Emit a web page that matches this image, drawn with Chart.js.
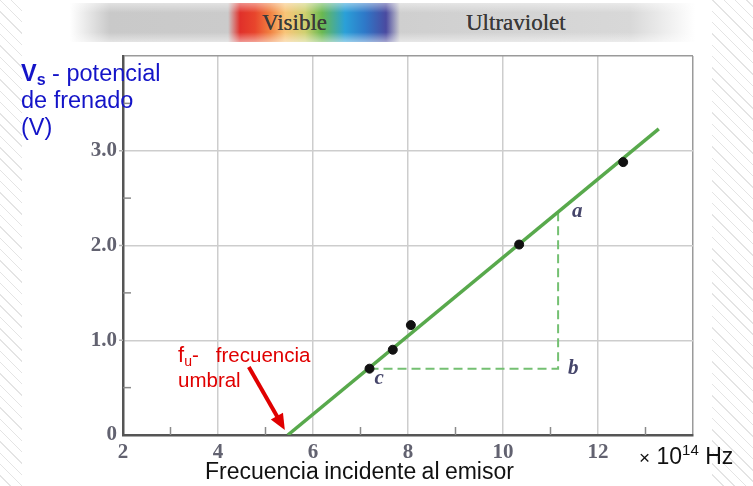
<!DOCTYPE html>
<html>
<head>
<meta charset="utf-8">
<script src="https://cdn.jsdelivr.net/npm/chart.js@4.4.1/dist/chart.umd.min.js"></script>
<style>
  html, body { margin: 0; padding: 0; }
  body {
    width: 753px; height: 486px; position: relative; overflow: hidden;
    background: #fff repeating-linear-gradient(45deg, #fff 0 7px, #e4e4e4 7px 8px);
    font-family: "Liberation Sans", Arial, sans-serif;
  }
  .panel { position: absolute; left: 22px; top: 0; width: 690px; height: 486px; background: #fff; }
  #wrap { position: absolute; left: 0; top: 0; width: 753px; height: 486px; }
  .spectrum {
    position: absolute; left: 70px; top: 3px; width: 625px; height: 39px;
    background:
      linear-gradient(to bottom, rgba(255,255,255,0.45), rgba(255,255,255,0) 25%, rgba(255,255,255,0) 75%, rgba(255,255,255,0.5)),
      linear-gradient(to right, rgba(200,200,200,0) 0px, #c9c9c9 40px, #cbcbcb 158px, #e0302a 170px,
        #e8452c 185px, #f08040 200px, #f8c478 215px, #cfd070 235px, #6ab850 252px, #2aa0d8 275px,
        #2e78c8 295px, #4a4aa0 316px, #cfcfcf 330px, #d8d8d8 560px, rgba(235,235,235,0) 625px);
  }
  .spectrum span {
    position: absolute; top: 7px; font-family: "Liberation Serif", "Times New Roman", serif;
    font-size: 23px; color: #3a3a3a; text-shadow: 0 0 0.6px #3a3a3a;
  }
  .ytitle { position: absolute; left: 21px; top: 60px; color: #1414c8; font-size: 23.5px; line-height: 27px; }
  .ytitle b sub { font-size: 16px; vertical-align: -4px; line-height: 0; }
  .xtitle { position: absolute; left: 205px; top: 458px; color: #111; font-size: 23px; word-spacing: -1px; }
  .units { position: absolute; left: 639px; top: 443px; color: #111; font-size: 23px; }
  .units .x { font-size: 19px; }
  .units sup { font-size: 15px; vertical-align: 9px; line-height: 0; }
  .umbral { position: absolute; left: 178px; top: 342px; color: #e00000; font-size: 20.5px; line-height: 25px; }
  .umbral .f { font-size: 22px; }
  .umbral sub { font-size: 14px; vertical-align: -4px; line-height: 0; }
</style>
</head>
<body>
<div class="panel"></div>
<div class="spectrum"><span style="left:192px">Visible</span><span style="left:396px">Ultraviolet</span></div>
<div id="wrap"><canvas id="chart" width="753" height="486"></canvas></div>
<div class="ytitle"><b>V<sub>s</sub></b> - potencial<br>de frenado<br>(V)</div>
<div class="umbral"><span class="f">f</span><sub>u</sub>-&nbsp;&nbsp; frecuencia<br>umbral</div>
<div class="xtitle">Frecuencia incidente al emisor</div>
<div class="units"><span class="x">×</span> 10<sup>14</sup> Hz</div>

<script>
// measured points (frequency in 10^14 Hz, stopping potential in V)
const freqPts = [7.19, 7.68, 8.06, 10.34, 12.53];
const vsPts = [0.70, 0.90, 1.16, 2.01, 2.88];

// fitted straight line, from threshold frequency upwards
const fitFreq = [5.47, 13.28];
const fitVs = [0, 3.23];

// dashed slope triangle c -> b -> a
const triFreq = [7.19, 11.16, 11.16];
const triVs = [0.70, 0.70, 2.36];
const triNames = ["c", "b", "a"];

const xTicks = [2, 4, 6, 8, 10, 12];
const yTicks = [0, 1, 2, 3];
const xMin = 2, xMax = 14, yMin = 0, yMax = 4;

const toXY = (xs, ys) => xs.map((x, i) => ({ x: x, y: ys[i] }));

// small inward ticks at the odd / half values + labels a, b, c + red arrow
const extras = {
  id: "extras",
  afterDatasetsDraw(chart) {
    const { ctx, scales: { x, y } } = chart;
    ctx.save();
    ctx.strokeStyle = "#8a8a8a";
    ctx.lineWidth = 1.5;
    for (let v = xMin + 1; v < xMax; v += 2) {
      const px = x.getPixelForValue(v);
      ctx.beginPath();
      ctx.moveTo(px, y.bottom);
      ctx.lineTo(px, y.bottom - 8);
      ctx.stroke();
    }
    for (let v = yMin + 0.5; v < yMax; v += 1) {
      const py = y.getPixelForValue(v);
      ctx.beginPath();
      ctx.moveTo(x.left, py);
      ctx.lineTo(x.left + 8, py);
      ctx.stroke();
    }
    // main y gridlines poke out a little left of the axis
    ctx.strokeStyle = "#b0b0b0";
    yTicks.forEach((v) => {
      if (v === yMin) return;
      const py = y.getPixelForValue(v);
      ctx.beginPath();
      ctx.moveTo(x.left - 4, py);
      ctx.lineTo(x.left, py);
      ctx.stroke();
    });

    // corner letters of the triangle
    ctx.fillStyle = "#45456a";
    ctx.font = "italic bold 21px 'Liberation Serif', serif";
    ctx.textBaseline = "middle";
    const offs = { a: [14, 0], b: [10, 0], c: [5, 10] };
    triNames.forEach((n, i) => {
      const px = x.getPixelForValue(triFreq[i]);
      const py = y.getPixelForValue(triVs[i]);
      ctx.fillText(n, px + offs[n][0], py + offs[n][1]);
    });

    // arrow pointing at the threshold frequency
    const tx = x.getPixelForValue(fitFreq[0]) - 3;
    const ty = y.getPixelForValue(0) - 5;
    const sx = tx - 36, sy = ty - 63;
    const ang = Math.atan2(ty - sy, tx - sx);
    ctx.strokeStyle = "#e00000";
    ctx.fillStyle = "#e00000";
    ctx.lineWidth = 4;
    ctx.beginPath();
    ctx.moveTo(sx, sy);
    ctx.lineTo(tx - 12 * Math.cos(ang), ty - 12 * Math.sin(ang));
    ctx.stroke();
    ctx.beginPath();
    ctx.moveTo(tx, ty);
    ctx.lineTo(tx - 16 * Math.cos(ang) + 7 * Math.sin(ang), ty - 16 * Math.sin(ang) - 7 * Math.cos(ang));
    ctx.lineTo(tx - 16 * Math.cos(ang) - 7 * Math.sin(ang), ty - 16 * Math.sin(ang) + 7 * Math.cos(ang));
    ctx.closePath();
    ctx.fill();
    ctx.restore();
  }
};

const tickFont = { family: "'Liberation Serif', 'Times New Roman', serif", size: 21, weight: "bold" };

new Chart(document.getElementById("chart"), {
  type: "scatter",
  data: {
    datasets: [
      {
        data: toXY(freqPts, vsPts),
        backgroundColor: "#111",
        borderColor: "#111",
        pointRadius: 4.5,
        order: 0
      },
      {
        data: toXY(fitFreq, fitVs),
        showLine: true,
        borderColor: "#58a94c",
        borderWidth: 3.5,
        pointRadius: 0,
        order: 1
      },
      {
        data: toXY(triFreq, triVs),
        showLine: true,
        borderColor: "#74c072",
        borderWidth: 2,
        borderDash: [9, 5],
        pointRadius: 0,
        order: 2
      }
    ]
  },
  options: {
    responsive: false,
    animation: false,
    layout: { padding: { left: 0, right: 60, top: 56, bottom: 0 } },
    plugins: { legend: { display: false }, tooltip: { enabled: false } },
    scales: {
      x: {
        type: "linear",
        min: xMin,
        max: xMax,
        afterFit: (s) => { s.height = 51; },
        ticks: {
          stepSize: 1,
          autoSkip: false,
          maxRotation: 0,
          padding: 5,
          color: "#626270",
          font: tickFont,
          callback: (v) => xTicks.includes(v) ? String(v) : ""
        },
        grid: {
          drawTicks: false,
          lineWidth: 1.5,
          color: (c) => {
            const v = c.tick ? c.tick.value : null;
            if (v === xMax) return "#9a9a9a";
            if (v !== null && v > xMin && v % 2 === 0) return "#cdcdcd";
            return "rgba(0,0,0,0)";
          }
        },
        border: { color: "#555", width: 2.5 }
      },
      y: {
        min: yMin,
        max: yMax,
        afterFit: (s) => { s.width = 123; },
        ticks: {
          stepSize: 0.5,
          autoSkip: false,
          padding: 6,
          color: "#626270",
          font: tickFont,
          callback: (v) => yTicks.includes(v) ? (v === 0 ? "0" : v.toFixed(1)) : ""
        },
        grid: {
          drawTicks: false,
          lineWidth: 1.5,
          color: (c) => {
            const v = c.tick ? c.tick.value : null;
            if (v === yMax) return "#9a9a9a";
            if (v !== null && v > yMin && Number.isInteger(v)) return "#cdcdcd";
            return "rgba(0,0,0,0)";
          }
        },
        border: { color: "#555", width: 2.5 }
      }
    }
  },
  plugins: [extras]
});
</script>
</body>
</html>
